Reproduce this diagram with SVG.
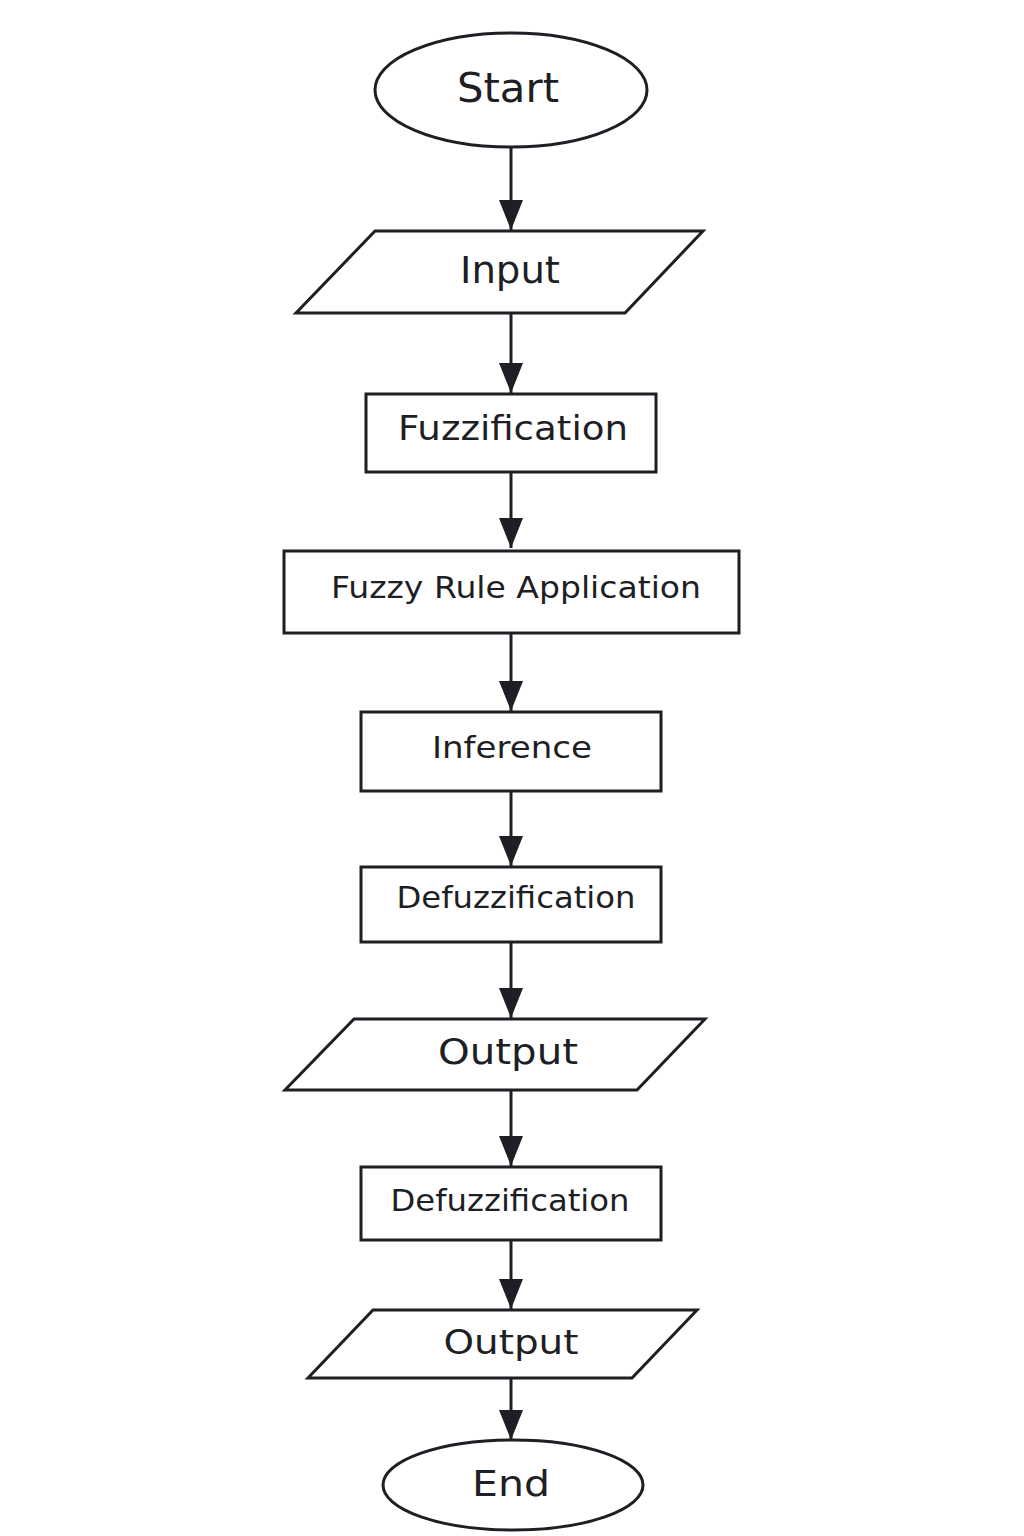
<svg xmlns="http://www.w3.org/2000/svg" width="1024" height="1536" viewBox="0 0 1024 1536">
<style>
.shape{fill:#ffffff;stroke:#1e1f24;stroke-width:3}
.lbl{font-family:"DejaVu Sans","Noto Sans",sans-serif;fill:#1e1f24;text-anchor:middle}
.edge{stroke:#1e1f24;stroke-width:3;fill:none}
</style>
<defs>
<marker id="arr" viewBox="0 0 30 24" refX="30" refY="12" markerWidth="30" markerHeight="24" markerUnits="userSpaceOnUse" orient="auto">
<path d="M0,0 L30,12 L0,24 Z" fill="#1e1f24"/>
</marker>
</defs>
<rect width="1024" height="1536" fill="#ffffff"/>
<g id="connectors">
<line class="edge" x1="511" y1="148" x2="511" y2="230" marker-end="url(#arr)"/>
<line class="edge" x1="511" y1="313" x2="511" y2="393" marker-end="url(#arr)"/>
<line class="edge" x1="511" y1="472" x2="511" y2="548" marker-end="url(#arr)"/>
<line class="edge" x1="511" y1="633" x2="511" y2="711" marker-end="url(#arr)"/>
<line class="edge" x1="511" y1="791" x2="511" y2="866" marker-end="url(#arr)"/>
<line class="edge" x1="511" y1="942" x2="511" y2="1018" marker-end="url(#arr)"/>
<line class="edge" x1="511" y1="1090" x2="511" y2="1166" marker-end="url(#arr)"/>
<line class="edge" x1="511" y1="1240" x2="511" y2="1309" marker-end="url(#arr)"/>
<line class="edge" x1="511" y1="1378" x2="511" y2="1440" marker-end="url(#arr)"/>
</g>
<g id="start">
<ellipse class="shape" cx="511" cy="90" rx="136" ry="57"/>
<text class="lbl" x="508" y="102" font-size="40" textLength="102" lengthAdjust="spacingAndGlyphs">Start</text>
</g>
<g id="input">
<polygon class="shape" points="375,231 703,231 625,313 296,313"/>
<text class="lbl" x="510" y="283" font-size="37" textLength="100" lengthAdjust="spacingAndGlyphs">Input</text>
</g>
<g id="fuzzification">
<rect class="shape" x="366" y="394" width="290" height="78"/>
<text class="lbl" x="513" y="440" font-size="34" textLength="230" lengthAdjust="spacingAndGlyphs">Fuzzification</text>
</g>
<g id="fuzzy-rule">
<rect class="shape" x="284" y="551" width="455" height="82"/>
<text class="lbl" x="516" y="598" font-size="31" textLength="370" lengthAdjust="spacingAndGlyphs">Fuzzy Rule Application</text>
</g>
<g id="inference">
<rect class="shape" x="361" y="712" width="300" height="79"/>
<text class="lbl" x="512" y="758" font-size="31" textLength="160" lengthAdjust="spacingAndGlyphs">Inference</text>
</g>
<g id="defuzzification1">
<rect class="shape" x="361" y="867" width="300" height="75"/>
<text class="lbl" x="516" y="908" font-size="30" textLength="239" lengthAdjust="spacingAndGlyphs">Defuzzification</text>
</g>
<g id="output1">
<polygon class="shape" points="354,1019 705,1019 637,1090 285,1090"/>
<text class="lbl" x="508" y="1064" font-size="35" textLength="140" lengthAdjust="spacingAndGlyphs">Output</text>
</g>
<g id="defuzzification2">
<rect class="shape" x="361" y="1167" width="300" height="73"/>
<text class="lbl" x="510" y="1211" font-size="30" textLength="239" lengthAdjust="spacingAndGlyphs">Defuzzification</text>
</g>
<g id="output2">
<polygon class="shape" points="373,1310 697,1310 632,1378 308,1378"/>
<text class="lbl" x="511" y="1354" font-size="33" textLength="135" lengthAdjust="spacingAndGlyphs">Output</text>
</g>
<g id="end">
<ellipse class="shape" cx="513" cy="1485" rx="130" ry="45"/>
<text class="lbl" x="511" y="1496" font-size="36" textLength="78" lengthAdjust="spacingAndGlyphs">End</text>
</g>
</svg>
